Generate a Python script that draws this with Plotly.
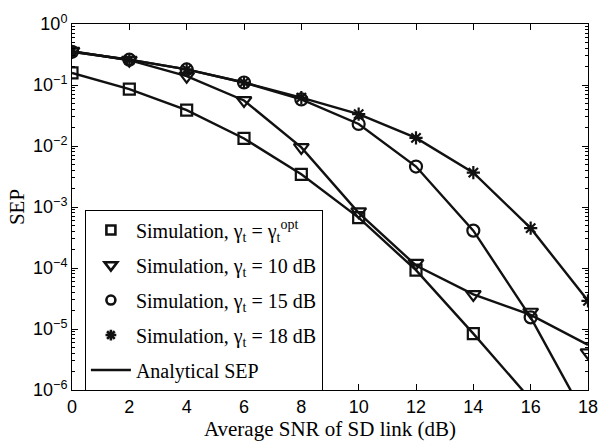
import plotly.graph_objects as go

snr = [0, 2, 4, 6, 8, 10, 12, 14, 16, 18]

# Simulation values
sim_opt = [0.158, 0.0857, 0.0386, 0.0133, 0.00343, 6.7e-4, 9.2e-5, 8.4e-6]
sim_10 = [0.36, 0.255, 0.14, 0.0558, 0.0095, 8.4e-4, 1.2e-4, 3.7e-5, 1.9e-5, 4.1e-6]
sim_15 = [0.35, 0.26, 0.18, 0.11, 0.058, 0.023, 4.6e-3, 4.1e-4, 1.55e-5]
sim_18 = [0.35, 0.26, 0.18, 0.11, 0.062, 0.0333, 0.0136, 3.66e-3, 4.5e-4, 2.9e-5]

# Analytical values
ana_opt = [0.158, 0.0857, 0.0386, 0.0133, 0.00343, 6.7e-4, 9.2e-5, 8.4e-6, 7.0e-7]
ana_10 = [0.36, 0.255, 0.14, 0.0558, 0.0095, 8.0e-4, 1.1e-4, 3.7e-5, 1.7e-5, 5.5e-6]
ana_15 = [0.35, 0.26, 0.18, 0.11, 0.058, 0.023, 4.6e-3, 4.1e-4, 1.55e-5, 3.0e-7]
ana_18 = [0.35, 0.26, 0.18, 0.11, 0.062, 0.0333, 0.0136, 3.66e-3, 4.5e-4, 2.9e-5]

sim_names = [
    "Simulation, γ<sub>t</sub> = γ<sub>t</sub><sup>opt</sup>",
    "Simulation, γ<sub>t</sub> = 10 dB",
    "Simulation, γ<sub>t</sub> = 15 dB",
    "Simulation, γ<sub>t</sub> = 18 dB",
]
ana_name = "Analytical SEP"

y_tickvals = [1e-6, 1e-5, 1e-4, 1e-3, 1e-2, 1e-1, 1]
y_ticktext = ["10<sup>−6</sup>", "10<sup>−5</sup>", "10<sup>−4</sup>", "10<sup>−3</sup>",
              "10<sup>−2</sup>", "10<sup>−1</sup>", "10<sup>0</sup>"]
x_tickvals = [0, 2, 4, 6, 8, 10, 12, 14, 16, 18]

minor_vals = [m * 10 ** e for e in range(-6, 0) for m in range(2, 10)]

INK = "#111111"
fig = go.Figure()

ana_sets = [ana_opt, ana_10, ana_15, ana_18]
for a in ana_sets:
    fig.add_trace(go.Scatter(
        x=snr[:len(a)], y=a, mode="lines",
        line=dict(color=INK, width=2.4), showlegend=False,
    ))

symbols = ["square-open", "triangle-down-open", "circle-open", "asterisk-open"]
sizes = [11, 13, 12, 11]
leg_sizes = [9, 11, 9, 9]
sim_sets = [sim_opt, sim_10, sim_15, sim_18]
for i, s in enumerate(sim_sets):
    fig.add_trace(go.Scatter(
        x=snr[:len(s)], y=s, mode="markers",
        marker=dict(symbol=symbols[i], size=sizes[i], color=INK,
                    line=dict(color=INK, width=2.2)),
        showlegend=False,
    ))

# legend entries
for i in range(4):
    fig.add_trace(go.Scatter(
        x=[None], y=[None], mode="markers",
        marker=dict(symbol=symbols[i], size=leg_sizes[i], color=INK,
                    line=dict(color=INK, width=2.6)),
        name=sim_names[i], legendgroup="sim%d" % i,
    ))
fig.add_trace(go.Scatter(
    x=[None], y=[None], mode="lines", line=dict(color=INK, width=2.6),
    name=ana_name, legendgroup="ana",
))

axis_common = dict(
    showgrid=False, zeroline=False, showline=True, linecolor="black", linewidth=1,
    mirror="ticks", ticks="inside", ticklen=6, tickcolor="black",
    tickfont=dict(family="Liberation Sans, Arial", size=18, color="black"),
)

fig.update_layout(
    width=610, height=448,
    margin=dict(l=72, r=13, t=15, b=58),
    paper_bgcolor="white", plot_bgcolor="white",
    xaxis=dict(range=[0, 18], tickvals=x_tickvals,
               title=dict(text="Average SNR of SD link (dB)",
                          font=dict(family="Liberation Serif, Times New Roman", size=21, color="black"),
                          standoff=4),
               **axis_common),
    yaxis=dict(type="log", range=[-6, 0], tickvals=y_tickvals, ticktext=y_ticktext,
               minor=dict(tickvals=minor_vals, ticks="inside", ticklen=3, tickcolor="black"),
               title=dict(text="SEP",
                          font=dict(family="Liberation Serif, Times New Roman", size=21, color="black"),
                          standoff=2),
               **axis_common),
    legend=dict(
        x=0.025, y=0.493, xanchor="left", yanchor="top",
        bgcolor="white", bordercolor="black", borderwidth=1,
        font=dict(family="Liberation Serif, Times New Roman", size=20, color="black"),
        traceorder="grouped", tracegroupgap=6, itemwidth=40,
    ),
    showlegend=True,
)

fig.write_html("out.html")
